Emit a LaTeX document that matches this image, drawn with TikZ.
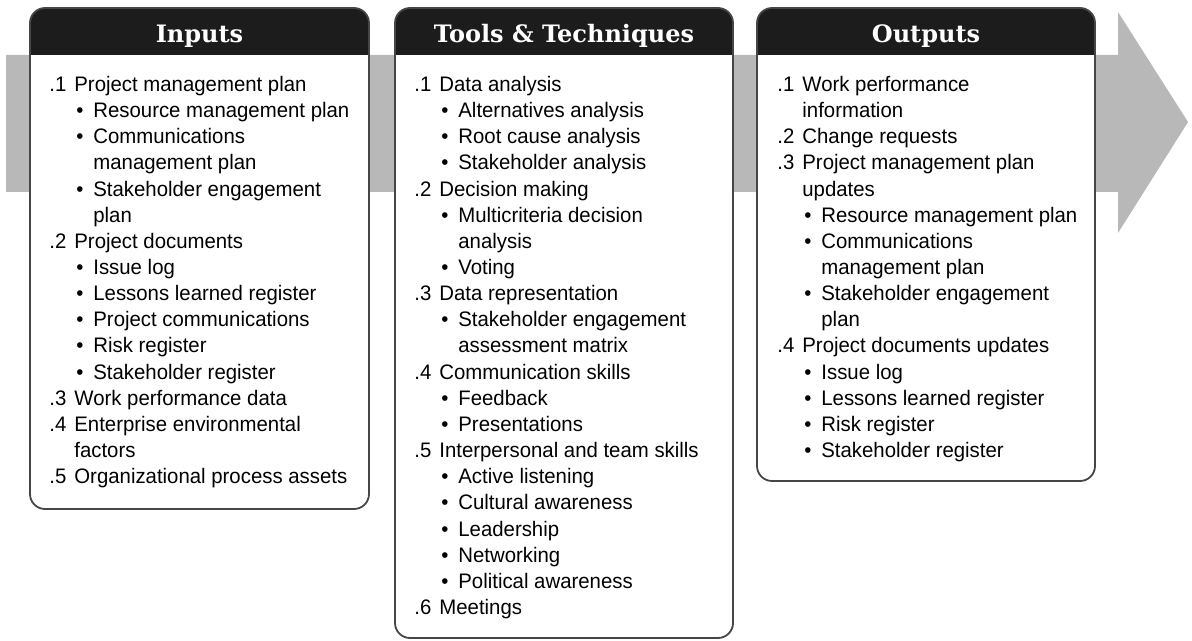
\documentclass[tikz,border=0pt]{standalone}
\usepackage{fontspec}
\setmainfont{Liberation Sans}[FakeStretch=0.97]
\newfontfamily\headfont{DejaVu Serif}
\definecolor{arrowgray}{RGB}{184,184,184}
\definecolor{headblack}{RGB}{28,28,28}
\definecolor{boxline}{RGB}{70,70,70}
\newcommand\PItem[2]{\hbox{\makebox[12.5pt][l]{#1}#2}}
\newcommand\PCont[1]{\hbox{\kern12.5pt #1}}
\newcommand\BItem[1]{\hbox{\kern13.5pt\makebox[8.5pt][l]{\textbullet}#1}}
\newcommand\BCont[1]{\hbox{\kern22pt #1}}
\newcommand\procshape[3]{%
  \fill[white, rounded corners=7.5pt] (#1,8) rectangle (#2,#3);
  \begin{scope}
    \clip (#1-2,6) rectangle (#2+2,55);
    \fill[headblack, rounded corners=7.5pt] (#1,8) rectangle (#2,90);
  \end{scope}
  \draw[boxline, line width=0.9pt, rounded corners=7.5pt] (#1,8) rectangle (#2,#3);
}
\tikzset{
  headtext/.style={anchor=base, inner sep=0pt, text=white, font=\headfont\bfseries\fontsize{12}{14}\selectfont},
  bodytext/.style={anchor=base west, inner sep=0pt, font=\fontsize{10.5}{13.075}\selectfont},
}
\begin{document}
\begin{tikzpicture}[x=0.5pt,y=-0.5pt]
\useasboundingbox (0,0) rectangle (1192,641);
% big gray arrow
\fill[arrowgray] (6,55) -- (1118,55) -- (1118,12) -- (1188,122) -- (1118,233) -- (1118,192) -- (6,192) -- cycle;
% boxes
\procshape{30}{369}{509}
\procshape{395}{733}{638}
\procshape{757}{1095}{481}
% headers
\node[headtext] (inhead) at (199.5,43) {Inputs};
\node[headtext] (tthead) at (564,43) {Tools \& Techniques};
\node[headtext] (outhead) at (926,43) {Outputs};
% bodies
\node[bodytext] (inbody) at (49,91.5) {\vtop{%
\PItem{.1}{Project management plan}
\BItem{Resource management plan}
\BItem{Communications}
\BCont{management plan}
\BItem{Stakeholder engagement}
\BCont{plan}
\PItem{.2}{Project documents}
\BItem{Issue log}
\BItem{Lessons learned register}
\BItem{Project communications}
\BItem{Risk register}
\BItem{Stakeholder register}
\PItem{.3}{Work performance data}
\PItem{.4}{Enterprise environmental}
\PCont{factors}
\PItem{.5}{Organizational process assets}}};
\node[bodytext] (ttbody) at (414,91.5) {\vtop{%
\PItem{.1}{Data analysis}
\BItem{Alternatives analysis}
\BItem{Root cause analysis}
\BItem{Stakeholder analysis}
\PItem{.2}{Decision making}
\BItem{Multicriteria decision}
\BCont{analysis}
\BItem{Voting}
\PItem{.3}{Data representation}
\BItem{Stakeholder engagement}
\BCont{assessment matrix}
\PItem{.4}{Communication skills}
\BItem{Feedback}
\BItem{Presentations}
\PItem{.5}{Interpersonal and team skills}
\BItem{Active listening}
\BItem{Cultural awareness}
\BItem{Leadership}
\BItem{Networking}
\BItem{Political awareness}
\PItem{.6}{Meetings}}};
\node[bodytext] (outbody) at (777,91.5) {\vtop{%
\PItem{.1}{Work performance}
\PCont{information}
\PItem{.2}{Change requests}
\PItem{.3}{Project management plan}
\PCont{updates}
\BItem{Resource management plan}
\BItem{Communications}
\BCont{management plan}
\BItem{Stakeholder engagement}
\BCont{plan}
\PItem{.4}{Project documents updates}
\BItem{Issue log}
\BItem{Lessons learned register}
\BItem{Risk register}
\BItem{Stakeholder register}}};
\end{tikzpicture}
\end{document}
